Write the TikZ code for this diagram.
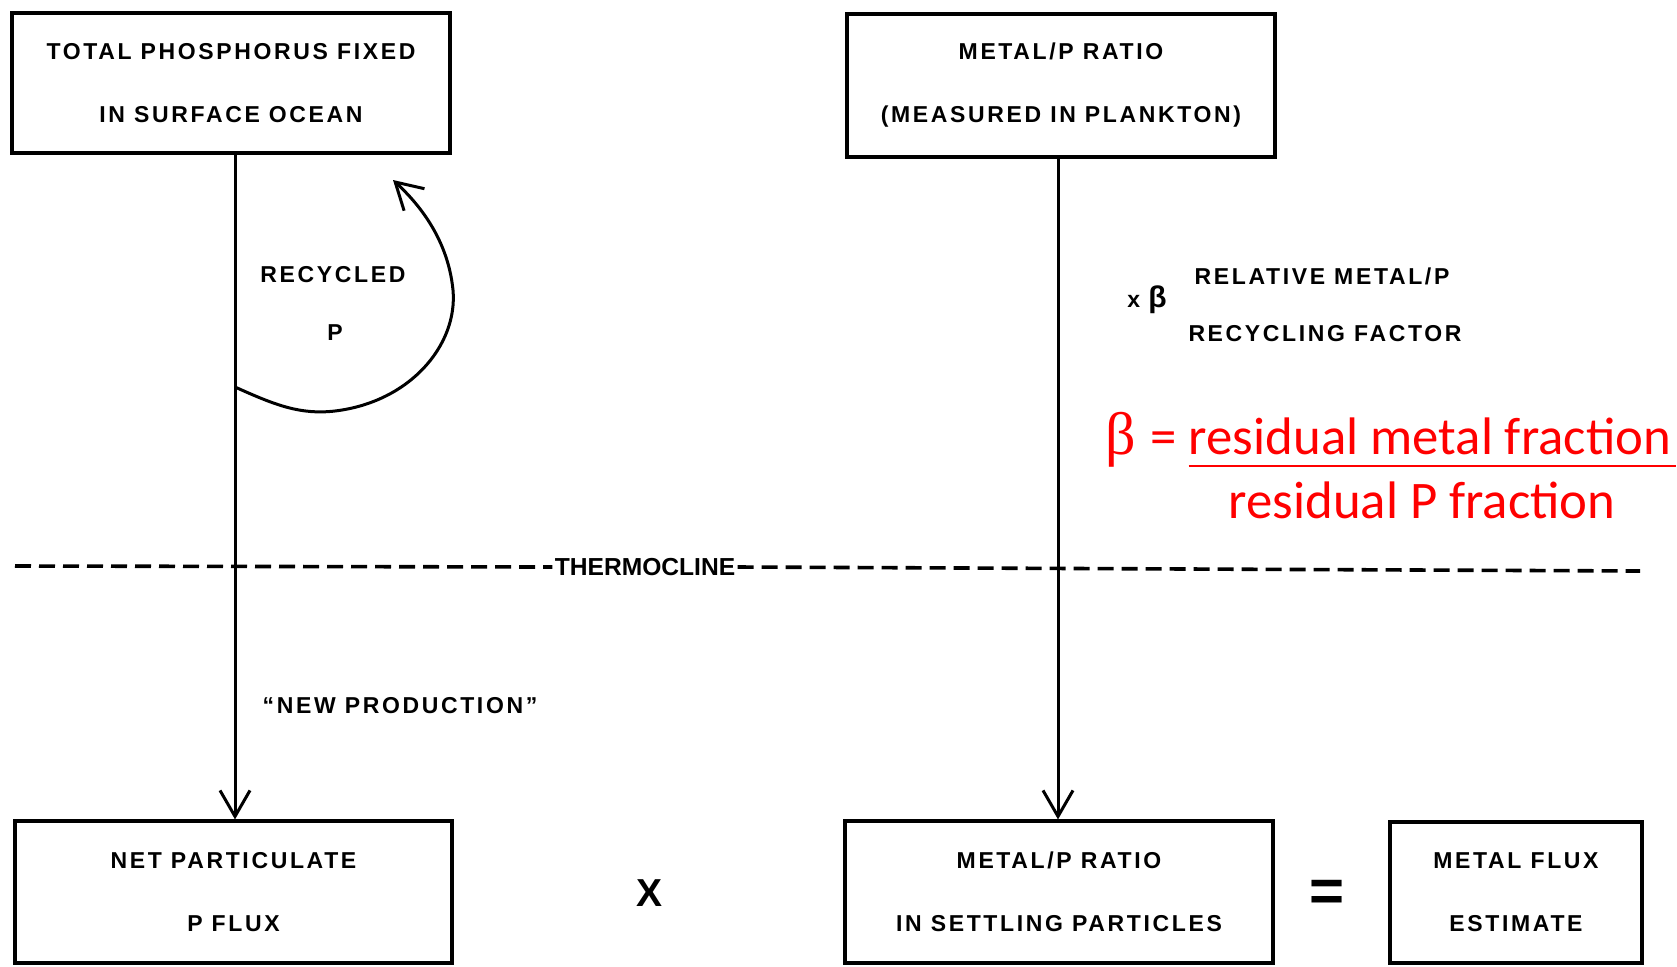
\documentclass[tikz,border=0pt]{standalone}
\usepackage{fontspec}
\usetikzlibrary{arrows.meta}
\setmainfont{Liberation Sans}
\newfontfamily\lblfont[LetterSpace=11.5]{Liberation Sans}
\newfontfamily\plainfont{Liberation Sans}
\newfontfamily\calib{Carlito}
\newfontfamily\sergr{Liberation Serif}
\begin{document}
\begin{tikzpicture}[x=0.5pt,y=-0.5pt,
  boxnode/.style={draw, line width=1.6pt, inner sep=0pt, align=center,
    font={\lblfont\bfseries\fontsize{11.5}{31.5}\selectfont}},
  lbl/.style={inner sep=0pt, font={\lblfont\bfseries\fontsize{11.5}{14}\selectfont}},
  thermo/.style={inner sep=1pt, font={\plainfont\bfseries\fontsize{12.3}{14}\selectfont}},
  arr/.style={line width=1.5pt, -{Straight Barb[length=13pt,width=15pt,line width=1.5pt]}},
  dashline/.style={line width=1.8pt, dash pattern=on 8pt off 4pt},
  redtext/.style={inner sep=0pt, text=red, font={\calib\fontsize{26.4}{30}\selectfont}},
  redline/.style={draw=red, line width=1.3pt},
  opsign/.style={inner sep=0pt, font={\plainfont\bfseries\fontsize{19.5}{22}\selectfont}}
]
\useasboundingbox (0,0) rectangle (1677,966);

% boxes
\node[boxnode, minimum width=219pt, minimum height=70pt] (b1) at (231,83)
  {TOTAL PHOSPHORUS FIXED\\IN SURFACE OCEAN};
\node[boxnode, minimum width=214pt, minimum height=71.5pt] (b2) at (1061,85.5)
  {METAL/P RATIO\\(MEASURED IN PLANKTON)};
\node[boxnode, minimum width=218.5pt, minimum height=71pt] (b3) at (233.5,892)
  {NET PARTICULATE\\P FLUX};
\node[boxnode, minimum width=214pt, minimum height=71pt] (b4) at (1059,892)
  {METAL/P RATIO\\IN SETTLING PARTICLES};
\node[boxnode, minimum width=126pt, minimum height=70.5pt] (b5) at (1516,892.5)
  {METAL FLUX\\ESTIMATE};

% vertical arrows
\coordinate (xl) at (235,0);
\coordinate (xr) at (1058,0);
\draw[arr] (b1.south -| xl) -- (b3.north -| xl);
\draw[arr] (b2.south -| xr) -- (b4.north -| xr);

% recycling loop
\coordinate (rs) at (235,387);
\coordinate (re) at (393,180);
\draw[arr] (rs) .. controls (275,405) and (300,415) .. (335,411)
  .. controls (410,402) and (458,345) .. (453,290)
  .. controls (448,240) and (420,205) .. (re);

% labels
\node[lbl] (rec) at (333,275) {RECYCLED};
\node[lbl] (recp) at (335,333) {P};
\node[lbl] (np) at (400,706) {“NEW PRODUCTION”};

% thermocline
\node[thermo] (th) at (645,567) {THERMOCLINE};
\coordinate (tl) at (15,566);
\coordinate (tr) at (1640,571);
\draw[dashline] (tl) -- (th.west);
\draw[dashline] (th.east) -- (tr);

% beta factor
\node[inner sep=0pt, font={\plainfont\bfseries}] (xb) at (1147,300)
  {{\fontsize{11.5}{12}\selectfont x}\kern4pt{\fontsize{15}{16}\selectfont β}};
\node[lbl] (rel) at (1322,276) {RELATIVE METAL/P};
\node[lbl] (rcf) at (1325,334) {RECYCLING FACTOR};

% red definition
\node[redtext] (num) at (1430,436) {residual metal fraction};
\node[redtext, anchor=base east] (req) at ([xshift=-5.5pt]num.base west) {=};
\node[inner sep=0pt, text=red, anchor=base east, font={\sergr\fontsize{30}{32}\selectfont}] (rb)
  at ([xshift=-7pt]req.base west) {β};
\node[redtext] (den) at (1422,500) {residual P fraction};
\draw[redline] ([yshift=-6pt]num.base west) -- ([yshift=-6pt,xshift=2pt]num.base east);

% operators
\node[opsign] (times) at (649,893) {X};
\node[inner sep=0pt, font={\plainfont\bfseries\fontsize{30}{32}\selectfont}] (eq) at (1327,896) {=};
\end{tikzpicture}
\end{document}
